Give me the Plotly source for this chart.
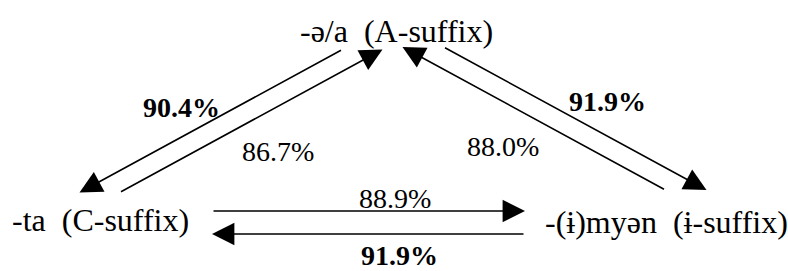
import plotly.graph_objects as go

# ---------------- data ----------------
NODE_KEYS = ["A", "C", "I"]
NODE_LABELS = ["-ə/a\u00a0\u00a0(A-suffix)", "-ta\u00a0\u00a0(C-suffix)", "-(ɨ)myən\u00a0\u00a0(ɨ-suffix)"]

EDGE_SOURCE = ["A", "C", "A", "I", "C", "I"]
EDGE_TARGET = ["C", "A", "I", "A", "I", "C"]
EDGE_PERCENT = [90.4, 86.7, 91.9, 88.0, 88.9, 91.9]
EDGE_BOLD = [True, False, True, False, False, True]

# ---------------- layout (pixel space) ----------------
W, H = 788, 271
FONT = "Liberation Serif"

NODE_TEXT_POS = {"A": (298, 30.5), "C": (10, 219.5), "I": (543, 222)}

# attachment ports of each node pair (centre line) and the perpendicular half-gap
PAIR_PORTS = {
    ("A", "C"): {"A": (362.5, 49.5), "C": (99.5, 192.5), "gap": (20.0, 0.0)},
    ("A", "I"): {"A": (423.0, 47.0), "I": (686.0, 190.0), "gap": (20.5, 0.0)},
    ("C", "I"): {"C": (212.0, 222.5), "I": (525.0, 222.5), "gap": (0.0, 11.5)},
}
# which side of the pair's centre line each directed edge is on (+1 / -1)
EDGE_SIDE = [-1, 1, 1, -1, -1, 1]
EDGE_LABEL_POS = [(181, 107), (278, 151), (607, 101), (503, 146), (395, 198), (399, 255.5)]

fig = go.Figure()
annotations = []

for key, label in zip(NODE_KEYS, NODE_LABELS):
    x, y = NODE_TEXT_POS[key]
    annotations.append(dict(x=x, y=y, xref="x", yref="y", text=label, showarrow=False,
                            xanchor="left", yanchor="middle",
                            font=dict(family=FONT, size=32, color="black")))

for src, tgt, pct, bold, side, lpos in zip(EDGE_SOURCE, EDGE_TARGET, EDGE_PERCENT,
                                           EDGE_BOLD, EDGE_SIDE, EDGE_LABEL_POS):
    pair = tuple(sorted((src, tgt), key=NODE_KEYS.index))
    ports = PAIR_PORTS[pair]
    gx, gy = ports["gap"]
    sx, sy = ports[src]
    tx, ty = ports[tgt]
    tail = (sx + side * gx, sy + side * gy)
    tip = (tx + side * gx, ty + side * gy)
    annotations.append(dict(x=tip[0], y=tip[1], ax=tail[0], ay=tail[1],
                            xref="x", yref="y", axref="x", ayref="y",
                            text="", showarrow=True, arrowhead=2, arrowsize=2.8,
                            arrowwidth=1.6, arrowcolor="black", standoff=0, startstandoff=0))
    txt = f"{pct:.1f}%"
    if bold:
        txt = f"<b>{txt}</b>"
    annotations.append(dict(x=lpos[0], y=lpos[1], xref="x", yref="y", text=txt,
                            showarrow=False, xanchor="center", yanchor="middle",
                            font=dict(family=FONT, size=28, color="black")))

fig.update_layout(
    width=W, height=H,
    margin=dict(l=0, r=0, t=0, b=0),
    paper_bgcolor="white", plot_bgcolor="white",
    font=dict(family=FONT),
    xaxis=dict(range=[0, W], visible=False, fixedrange=True),
    yaxis=dict(range=[H, 0], visible=False, fixedrange=True),
    annotations=annotations,
    showlegend=False,
)

fig.write_html("out.html", config={"displayModeBar": False},
               post_script="document.body.style.margin='0';document.body.style.overflow='hidden';")
